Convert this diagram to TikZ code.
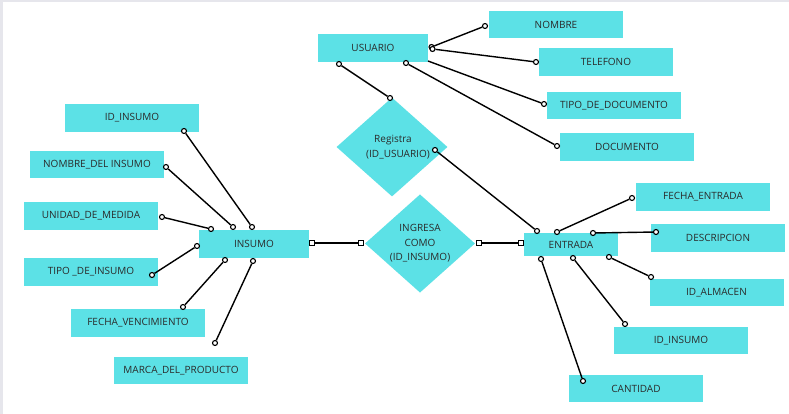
\documentclass[tikz,border=0pt]{standalone}
\usepackage{fontspec}
\setmainfont{Open Sans}
\usetikzlibrary{shapes.geometric}
\definecolor{boxc}{HTML}{5CE1E6}
\definecolor{txtc}{HTML}{2A2A2A}
\definecolor{edgec}{HTML}{E6E6EC}
\tikzset{
  ent/.style={rectangle, fill=boxc, text=txtc, font=\fontsize{10}{12}\selectfont, inner sep=0pt, minimum width=134pt, minimum height=27.5pt},
  rel/.style={diamond, fill=boxc, text=txtc, font=\fontsize{10}{14.5}\selectfont, inner sep=0pt, align=center},
  dot/.style={circle, draw=black, fill=white, line width=1.1pt, inner sep=0pt, minimum size=5pt},
  sq/.style={rectangle, draw=black, fill=white, line width=1.1pt, inner sep=0pt, minimum size=5pt},
  conn/.style={line width=1.4pt, black}
}
\begin{document}
\begin{tikzpicture}[x=1pt, y=-1pt]
\useasboundingbox (0,0) rectangle (789,414);
\fill[white] (0,0) rectangle (789,414);
\fill[edgec] (0,0) rectangle (789,2.5);
\fill[edgec] (0,0) rectangle (2.5,414);

% entities
\node[ent, minimum width=110pt, minimum height=28pt] (usuario) at (373,48) {USUARIO};
\node[ent] (nombre) at (556,24.5) {NOMBRE};
\node[ent] (telefono) at (606,62) {TELEFONO};
\node[ent] (tipodoc) at (614,105.5) {TIPO\_DE\_DOCUMENTO};
\node[ent] (documento) at (627,147) {DOCUMENTO};

\node[ent, minimum width=94pt, minimum height=23pt] (entrada) at (571,244.5) {ENTRADA};
\node[ent] (fechaent) at (703,197) {FECHA\_ENTRADA};
\node[ent] (descripcion) at (718,238) {DESCRIPCION};
\node[ent] (idalmacen) at (716.5,292.5) {ID\_ALMACEN};
\node[ent] (idinsumoR) at (681,340.5) {ID\_INSUMO};
\node[ent] (cantidad) at (636,388.5) {CANTIDAD};

\node[ent, minimum width=110pt, minimum height=28pt] (insumo) at (254,244) {INSUMO};
\node[ent] (idinsumoL) at (132,118) {ID\_INSUMO};
\node[ent] (nombreins) at (97,164.5) {NOMBRE\_DEL INSUMO};
\node[ent] (unidad) at (91,216) {UNIDAD\_DE\_MEDIDA};
\node[ent] (tipoins) at (91,272) {TIPO \_DE\_INSUMO};
\node[ent] (fechavenc) at (138,323) {FECHA\_VENCIMIENTO};
\node[ent] (marca) at (181,370.5) {MARCA\_DEL\_PRODUCTO};

% relationships
\node[rel, minimum width=111pt, minimum height=94pt] (registra) at (392,147) {\hspace*{2pt}Registra\\\hspace*{12pt}(ID\_USUARIO)};
\node[rel, minimum width=110pt, minimum height=93pt] (ingresa) at (420,243.5) {INGRESA\\COMO\\(ID\_INSUMO)};

% end markers
\node[dot] (u1) at (339,64) {};
\node[dot] (d1) at (390,98) {};
\node[dot] (u2a) at (431.5,47) {};
\node[dot] (u2b) at (432.5,49) {};
\node[dot] (n1) at (485,26) {};
\node[dot] (t1) at (536,62) {};
\coordinate (uc) at (428,61);
\node[dot] (td1) at (544,104) {};
\node[dot] (u3) at (406,63) {};
\node[dot] (dc1) at (557,146) {};
\node[dot] (r1) at (435,150) {};
\node[dot] (e1) at (537,231) {};
\node[dot] (e2) at (557,232) {};
\node[dot] (fe1) at (632,198) {};
\node[dot] (e3) at (593,233) {};
\node[dot] (de1) at (656,232) {};
\node[dot] (e4) at (609,257) {};
\node[dot] (ia1) at (651,277) {};
\node[dot] (e5) at (573,258) {};
\node[dot] (ii1) at (625,324) {};
\node[dot] (e6) at (541,259) {};
\node[dot] (ca1) at (583,381) {};

\node[dot] (a1) at (184,131) {};
\node[dot] (i1) at (252,227) {};
\node[dot] (b1) at (166,167) {};
\node[dot] (i2) at (233,227) {};
\node[dot] (c1) at (162,217) {};
\node[dot] (i3) at (211,229) {};
\node[dot] (dd1) at (152,275) {};
\node[dot] (i4) at (197,246) {};
\node[dot] (f1) at (183,307) {};
\node[dot] (i5) at (225,260) {};
\node[dot] (m1) at (215,343) {};
\node[dot] (i6) at (253,261) {};

\node[sq] (s1) at (312,243) {};
\node[sq] (s2) at (361,243) {};
\node[sq] (s3) at (479,243) {};
\node[sq] (s4) at (521,243) {};

% connectors
\draw[conn] (u1) -- (d1);
\draw[conn] (u2a) -- (n1);
\draw[conn] (u2b) -- (t1);
\draw[conn] (uc) -- (td1);
\draw[conn] (u3) -- (dc1);
\draw[conn] (r1) -- (e1);
\draw[conn] (e2) -- (fe1);
\draw[conn] (e3) -- (de1);
\draw[conn] (e4) -- (ia1);
\draw[conn] (e5) -- (ii1);
\draw[conn] (e6) -- (ca1);
\draw[conn] (a1) -- (i1);
\draw[conn] (b1) -- (i2);
\draw[conn] (c1) -- (i3);
\draw[conn] (dd1) -- (i4);
\draw[conn] (f1) -- (i5);
\draw[conn] (m1) -- (i6);
\draw[conn] (s1) -- (s2);
\draw[conn] (s3) -- (s4);
\end{tikzpicture}
\end{document}
